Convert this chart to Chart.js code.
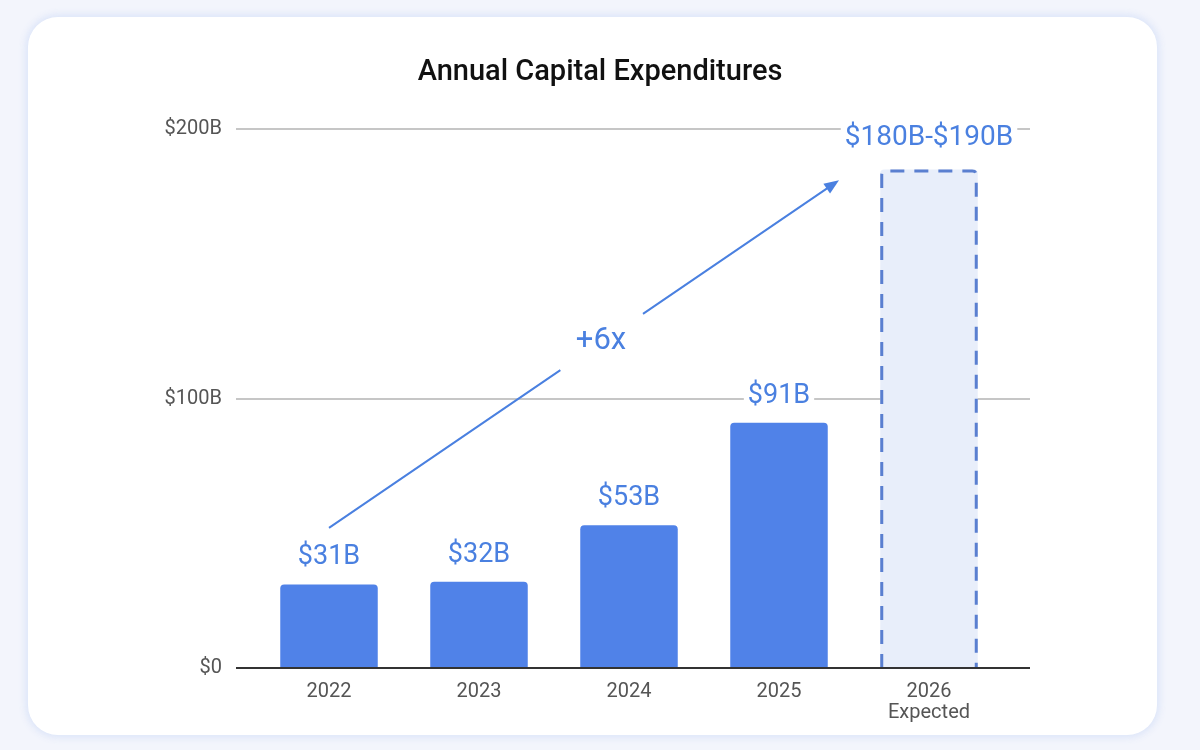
<!DOCTYPE html>
<html>
<head>
<meta charset="utf-8">
<script src="https://cdn.jsdelivr.net/npm/chart.js@4"></script>
<style>
  html, body { margin: 0; padding: 0; background: #f3f5fc; }
  .card {
    position: absolute; left: 28px; top: 17px; width: 1129px; height: 718px;
    background: #fff; border-radius: 30px;
    box-shadow: 0 0 6px 3px rgba(220, 228, 248, 0.9);
  }
  .wrap { position: absolute; left: 0; top: 0; width: 1200px; height: 750px; }
</style>
</head>
<body>
<div class="card"></div>
<div class="wrap"><canvas id="capexChart" width="1200" height="750"></canvas></div>
<script>
// data
const years = [['2022'], ['2023'], ['2024'], ['2025'], ['2026', 'Expected']];
const capex = [31, 32, 53, 91, 185];
const valueLabels = ['$31B', '$32B', '$53B', '$91B', '$180B-$190B'];
const yTicks = [0, 100, 200];
const trendFrom = { index: 0, value: 52 };
const trendTo = { index: 3.4, value: 181 };
const trendLabel = '+6x';
const chartTitle = 'Annual Capital Expenditures';

const blue = '#5082e8';
const textBlue = '#4a80e0';
const FONT = 'Roboto, "Open Sans", sans-serif';

function xAt(scale, idx) {
    const a = scale.getPixelForValue(Math.floor(idx));
    const b = scale.getPixelForValue(Math.ceil(idx));
    return a + (b - a) * (idx - Math.floor(idx));
}

const decorations = {
    id: 'decorations',
    beforeDatasetsDraw(chart) {
        const { ctx, chartArea, scales: { y } } = chart;
        ctx.save();
        // title centred on the card, not on the plot
        ctx.fillStyle = '#111';
        ctx.font = '500 29px ' + FONT;
        ctx.textAlign = 'center';
        ctx.textBaseline = 'middle';
        ctx.fillText(chartTitle, chart.width / 2, 73);

        ctx.strokeStyle = '#c6c6c6';
        ctx.lineWidth = 2;
        for (const t of yTicks) {
            if (t === 0) continue;
            const py = Math.round(y.getPixelForValue(t));
            ctx.beginPath();
            ctx.moveTo(chartArea.left - 18, py);
            ctx.lineTo(chartArea.right + 26, py);
            ctx.stroke();
        }
        ctx.restore();
    },
    afterDatasetsDraw(chart) {
        const { ctx, chartArea, scales: { x, y } } = chart;
        const meta = chart.getDatasetMeta(0);
        ctx.save();

        // dashed outline for the expected year
        const last = meta.data[meta.data.length - 1];
        const half = last.width / 2;
        const l = last.x - half + 1.5, r = last.x + half - 1.5;
        const t = last.y + 1.5, b = last.base;
        const rad = 4;
        ctx.strokeStyle = '#5a7fd0';
        ctx.lineWidth = 3;
        ctx.setLineDash([14, 10]);
        ctx.beginPath();
        ctx.moveTo(l, b);
        ctx.lineTo(l, t + rad);
        ctx.quadraticCurveTo(l, t, l + rad, t);
        ctx.lineTo(r - rad, t);
        ctx.quadraticCurveTo(r, t, r, t + rad);
        ctx.lineTo(r, b);
        ctx.stroke();
        ctx.setLineDash([]);

        // zero line
        const zy = Math.round(y.getPixelForValue(0));
        ctx.strokeStyle = '#333';
        ctx.lineWidth = 2;
        ctx.beginPath();
        ctx.moveTo(chartArea.left - 18, zy);
        ctx.lineTo(chartArea.right + 26, zy);
        ctx.stroke();

        // value labels with white backing so gridlines break around them
        ctx.textAlign = 'center';
        ctx.textBaseline = 'middle';
        meta.data.forEach((bar, i) => {
            const txt = valueLabels[i];
            const isLast = i === meta.data.length - 1;
            ctx.font = (isLast ? '28px ' : '27px ') + FONT;
            const ty = bar.y - (isLast ? 31 : 27);
            const w = ctx.measureText(txt).width;
            ctx.fillStyle = '#fff';
            ctx.fillRect(bar.x - w / 2 - 4, ty - 12, w + 8, 24);
            ctx.fillStyle = textBlue;
            ctx.fillText(txt, bar.x, ty);
        });

        // trend arrow
        const x1 = xAt(x, trendFrom.index), y1 = y.getPixelForValue(trendFrom.value);
        const x2 = xAt(x, trendTo.index), y2 = y.getPixelForValue(trendTo.value);
        const ang = Math.atan2(y2 - y1, x2 - x1);
        const len = Math.hypot(x2 - x1, y2 - y1);
        const mx = 601, my = 341;
        const tMid = ((mx - x1) * Math.cos(ang) + (my - y1) * Math.sin(ang));
        const gap = 50;
        ctx.strokeStyle = textBlue;
        ctx.lineWidth = 2;
        ctx.beginPath();
        ctx.moveTo(x1, y1);
        ctx.lineTo(x1 + Math.cos(ang) * (tMid - gap), y1 + Math.sin(ang) * (tMid - gap));
        ctx.moveTo(x1 + Math.cos(ang) * (tMid + gap), y1 + Math.sin(ang) * (tMid + gap));
        ctx.lineTo(x1 + Math.cos(ang) * (len - 10), y1 + Math.sin(ang) * (len - 10));
        ctx.stroke();
        ctx.fillStyle = textBlue;
        ctx.beginPath();
        ctx.moveTo(x2, y2);
        ctx.lineTo(x2 - 16 * Math.cos(ang - 0.38), y2 - 16 * Math.sin(ang - 0.38));
        ctx.lineTo(x2 - 16 * Math.cos(ang + 0.38), y2 - 16 * Math.sin(ang + 0.38));
        ctx.closePath();
        ctx.fill();

        ctx.font = '31px ' + FONT;
        ctx.fillText(trendLabel, mx, my);
        ctx.restore();
    }
};

new Chart(document.getElementById('capexChart'), {
    type: 'bar',
    data: {
        labels: years,
        datasets: [{
            data: capex,
            backgroundColor: capex.map((v, i) => i === capex.length - 1 ? '#e8eefa' : blue),
            borderWidth: 0,
            borderRadius: { topLeft: 4, topRight: 4 },
            borderSkipped: 'bottom',
            categoryPercentage: 1,
            barPercentage: 0.65
        }]
    },
    options: {
        responsive: false,
        animation: false,
        layout: { padding: { left: 0, right: 196, top: 129, bottom: 0 } },
        plugins: {
            legend: { display: false },
            tooltip: { enabled: false },
            title: { display: false }
        },
        scales: {
            x: {
                grid: { display: false, drawTicks: false },
                border: { display: false },
                ticks: {
                    color: '#555',
                    font: { family: FONT, size: 20, lineHeight: 1.05 },
                    padding: 13,
                    maxRotation: 0
                },
                afterFit(scale) { scale.height = 82; }
            },
            y: {
                min: 0,
                max: 200,
                afterBuildTicks(scale) { scale.ticks = yTicks.map(v => ({ value: v })); },
                grid: { display: false, drawTicks: false },
                border: { display: false },
                ticks: {
                    color: '#555',
                    font: { family: FONT, size: 20 },
                    padding: 32,
                    callback: v => '$' + v + (v === 0 ? '' : 'B')
                },
                afterFit(scale) { scale.width = 254; }
            }
        }
    },
    plugins: [decorations]
});
</script>
</body>
</html>
